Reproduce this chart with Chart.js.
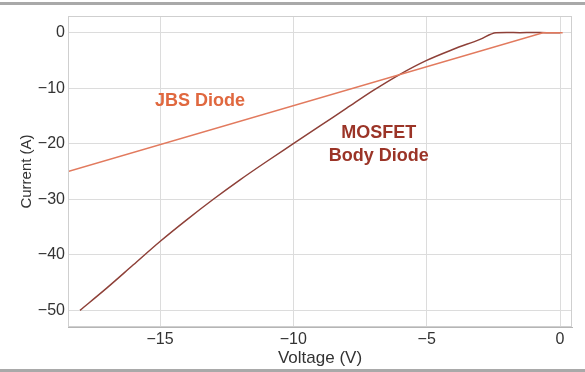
<!DOCTYPE html>
<html>
<head>
<meta charset="utf-8">
<script src="https://cdn.jsdelivr.net/npm/chart.js@4"></script>
<style>
  html, body { margin: 0; padding: 0; background: #fff; }
  #wrap { position: relative; width: 585px; height: 372px; }
  .rule { position: absolute; left: 0; width: 585px; height: 3px; background: #a9a9a9; }
</style>
</head>
<body>
<div id="wrap">
  <canvas id="cv" width="585" height="372"></canvas>
  <div class="rule" style="top:2px"></div>
  <div class="rule" style="top:369px"></div>
</div>
<script>
// MOSFET body diode I-V (voltage V, current A)
const mosfetV = [-18, -17, -16, -15, -14, -13, -12, -11, -10, -9, -8, -7, -6, -5, -4, -3, -2.4, -2, -1.5, -1, -0.5, 0];
const mosfetI = [-50, -46, -41.8, -37.6, -33.7, -30, -26.5, -23.2, -20, -16.8, -13.6, -10.4, -7.5, -5.0, -3.0, -1.2, 0, 0.05, 0, 0.05, 0, 0];

// JBS diode I-V
const jbsV = [-18.45, -0.64, 0.1];
const jbsI = [-25, 0, 0];

const xTicks = [-15, -10, -5, 0];
const yTicks = [0, -10, -20, -30, -40, -50];

const labels = [
  { text: 'JBS Diode', v: -13.5, i: -12.3, color: '#e0683f' },
  { text: 'MOSFET', v: -6.8, i: -18.1, color: '#9b3427' },
  { text: 'Body Diode', v: -6.8, i: -22.3, color: '#9b3427' }
];

const toPts = (xs, ys) => xs.map((x, k) => ({ x: x, y: ys[k] }));
const minus = v => String(v).replace('-', '\u2212');
const FONT = '"Liberation Sans", Arial, sans-serif';

const labelPlugin = {
  id: 'labels',
  afterDatasetsDraw(chart) {
    const ctx = chart.ctx;
    const sx = chart.scales.x, sy = chart.scales.y;
    ctx.save();
    ctx.font = 'bold 18px ' + FONT;
    ctx.textAlign = 'center';
    ctx.textBaseline = 'middle';
    labels.forEach(l => {
      ctx.fillStyle = l.color;
      ctx.fillText(l.text, sx.getPixelForValue(l.v), sy.getPixelForValue(l.i));
    });
    ctx.restore();
  }
};

new Chart(document.getElementById('cv').getContext('2d'), {
  type: 'scatter',
  data: {
    datasets: [
      {
        label: 'JBS Diode',
        data: toPts(jbsV, jbsI),
        showLine: true,
        borderColor: '#e27a5e',
        borderWidth: 1.5,
        pointRadius: 0
      },
      {
        label: 'MOSFET Body Diode',
        data: toPts(mosfetV, mosfetI),
        showLine: true,
        borderColor: '#8e4038',
        borderWidth: 1.5,
        pointRadius: 0,
        cubicInterpolationMode: 'monotone'
      }
    ]
  },
  options: {
    responsive: false,
    animation: false,
    layout: { padding: { left: 0, right: 13, top: 16, bottom: 0 } },
    plugins: { legend: { display: false }, tooltip: { enabled: false } },
    scales: {
      x: {
        type: 'linear',
        min: -18.45,
        max: 0.45,
        afterBuildTicks: s => { s.ticks = xTicks.map(v => ({ value: v })); },
        afterFit: s => { s.height = 45; },
        grid: { color: '#dcdcdc', drawTicks: false },
        border: { color: '#b5b5b5' },
        ticks: {
          padding: 3,
          color: '#333',
          font: { size: 16, family: FONT },
          callback: v => minus(v)
        },
        title: {
          display: true,
          text: 'Voltage (V)',
          color: '#333',
          padding: { top: 0, bottom: 3 },
          font: { size: 17, family: FONT }
        }
      },
      y: {
        type: 'linear',
        min: -53,
        max: 3,
        afterBuildTicks: s => { s.ticks = yTicks.map(v => ({ value: v })); },
        afterFit: s => { s.width = 68; },
        grid: { color: '#dcdcdc', drawTicks: false },
        border: { color: '#b5b5b5' },
        ticks: {
          padding: 3,
          color: '#333',
          font: { size: 16, family: FONT },
          callback: v => minus(v)
        },
        title: {
          display: true,
          text: 'Current (A)',
          color: '#333',
          padding: { top: 18, bottom: 0 },
          font: { size: 15, family: FONT }
        }
      }
    }
  },
  plugins: [labelPlugin, {
    id: 'frame',
    afterDraw(chart) {
      const a = chart.chartArea, ctx = chart.ctx;
      ctx.save();
      ctx.strokeStyle = '#cfcfcf';
      ctx.lineWidth = 1;
      ctx.strokeRect(a.left + 0.5, a.top + 0.5, a.right - a.left - 1, a.bottom - a.top - 1);
      ctx.restore();
    }
  }]
});
</script>
</body>
</html>
